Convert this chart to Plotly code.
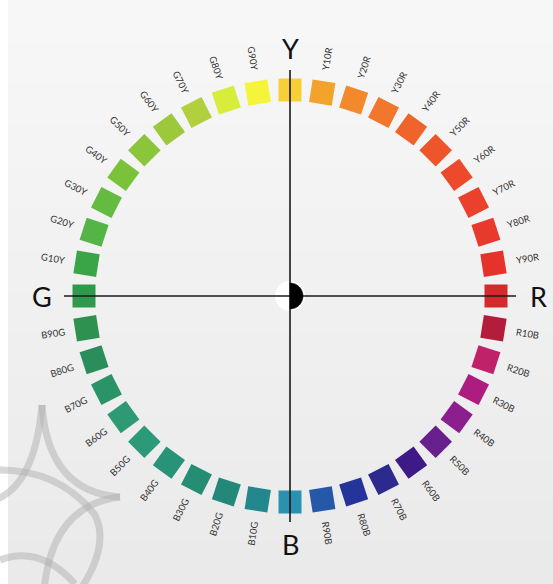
import numpy as np
import plotly.graph_objects as go

# ---- data ----
hue_labels = ["Y", "Y10R", "Y20R", "Y30R", "Y40R", "Y50R", "Y60R", "Y70R", "Y80R", "Y90R",
              "R", "R10B", "R20B", "R30B", "R40B", "R50B", "R60B", "R70B", "R80B", "R90B",
              "B", "B10G", "B20G", "B30G", "B40G", "B50G", "B60G", "B70G", "B80G", "B90G",
              "G", "G10Y", "G20Y", "G30Y", "G40Y", "G50Y", "G60Y", "G70Y", "G80Y", "G90Y"]
hue_colors = ["#f8cf36", "#f3a22b", "#f2892a", "#f2762b", "#f0642b", "#ee552a", "#ec4a2a", "#e9412b", "#e83a2c", "#e5332c",
              "#d32a2b", "#b31d3b", "#c0226a", "#ad1d7f", "#8c1f8e", "#68208c", "#3e1a86", "#2c2a8f", "#24349b", "#2559a8",
              "#2a92b0", "#22888d", "#23887a", "#258d74", "#289377", "#2c9a78", "#2e9a74", "#2b9466", "#2a8e5c", "#2f9150",
              "#2f994c", "#3aa546", "#54b446", "#64bb3f", "#7bc23b", "#8bc63a", "#9cc83c", "#b2d03e", "#d8ec3c", "#f6f43a"]
elementary = ["Y", "R", "B", "G"]

# ---- geometry ----
W, H = 553, 584
CX, CY = 290, 296
R_SQ, R_LAB, R_BIG, R_AX = 206, 240, 248, 226

n = len(hue_labels)
theta = np.deg2rad(90 - 9 * np.arange(n))
xs = CX + R_SQ * np.cos(theta)
ys = CY - R_SQ * np.sin(theta)
sq_angle = (90 - np.rad2deg(theta)) % 90

fig = go.Figure()

# background gradient
shapes = []
bands = 14
for i in range(bands):
    g = int(247 - 13 * i / (bands - 1))
    shapes.append(dict(type="rect", xref="x", yref="y", x0=0, x1=W,
                       y0=i * H / bands, y1=(i + 1) * H / bands + 1,
                       fillcolor=f"rgb({g},{g},{g})", line=dict(width=0), layer="below"))
shapes.append(dict(type="rect", xref="x", yref="y", x0=0, x1=8, y0=0, y1=H,
                   fillcolor="white", line=dict(width=0), layer="below"))
# decorative swirl
swirl = "rgba(175,175,175,0.5)"
for p in ["M 42,405 Q 48,492 120,497", "M 120,497 Q 52,505 44,590",
          "M 42,405 Q 35,485 -5,500", "M 0,470 Q 60,470 95,515 Q 110,545 80,590",
          "M 0,560 Q 40,545 75,584"]:
    shapes.append(dict(type="path", path=p, xref="x", yref="y",
                       line=dict(color=swirl, width=7), layer="below"))

# axes lines
shapes.append(dict(type="line", xref="x", yref="y", x0=CX, x1=CX, y0=CY - R_AX, y1=CY + R_AX,
                   line=dict(color="#1a1a1a", width=1.6)))
shapes.append(dict(type="line", xref="x", yref="y", x0=CX - R_AX, x1=CX + R_AX, y0=CY, y1=CY,
                   line=dict(color="#1a1a1a", width=1.6)))

fig.add_trace(go.Scatter(x=xs, y=ys, mode="markers", hoverinfo="text", text=hue_labels,
                         marker=dict(symbol="square", size=23, color=hue_colors,
                                     angle=sq_angle, line=dict(width=0))))

# centre: white left half, black right half
r_c = 13
fig.add_trace(go.Scatter(x=[CX], y=[CY], mode="markers",
                         marker=dict(symbol="circle", size=2 * r_c + 4, color="white",
                                     line=dict(width=0)), hoverinfo="skip"))
t = np.linspace(-np.pi / 2, np.pi / 2, 40)
path = f"M {CX},{CY - r_c} " + " ".join(
    f"L {CX + r_c * np.cos(a):.2f},{CY - r_c * np.sin(a):.2f}" for a in t[::-1]) + " Z"
shapes.append(dict(type="path", path=path, xref="x", yref="y", fillcolor="black",
                   line=dict(color="black", width=0.5)))

annotations = []
for lab, th in zip(hue_labels, theta):
    deg = np.rad2deg(th)
    if lab in elementary:
        annotations.append(dict(x=CX + R_BIG * np.cos(th), y=CY - R_BIG * np.sin(th),
                                text=lab, showarrow=False,
                                font=dict(family="Lato", size=27, color="#111")))
    else:
        c = np.cos(th)
        ang = -deg if c > 0 else 180 - deg
        ang = (ang + 180) % 360 - 180
        annotations.append(dict(x=CX + R_LAB * np.cos(th), y=CY - R_LAB * np.sin(th),
                                text=lab, showarrow=False, textangle=ang,
                                font=dict(family="Lato", size=9.5, color="#333")))

fig.update_layout(width=W, height=H, margin=dict(l=0, r=0, t=0, b=0),
                  paper_bgcolor="#f1f1f1", plot_bgcolor="#f1f1f1", showlegend=False,
                  xaxis=dict(range=[0, W], visible=False, fixedrange=True),
                  yaxis=dict(range=[H, 0], visible=False, fixedrange=True),
                  shapes=shapes, annotations=annotations)
fig.write_html("out.html", config={"displayModeBar": False},
               post_script="document.body.style.margin='0';document.body.style.padding='0';")
